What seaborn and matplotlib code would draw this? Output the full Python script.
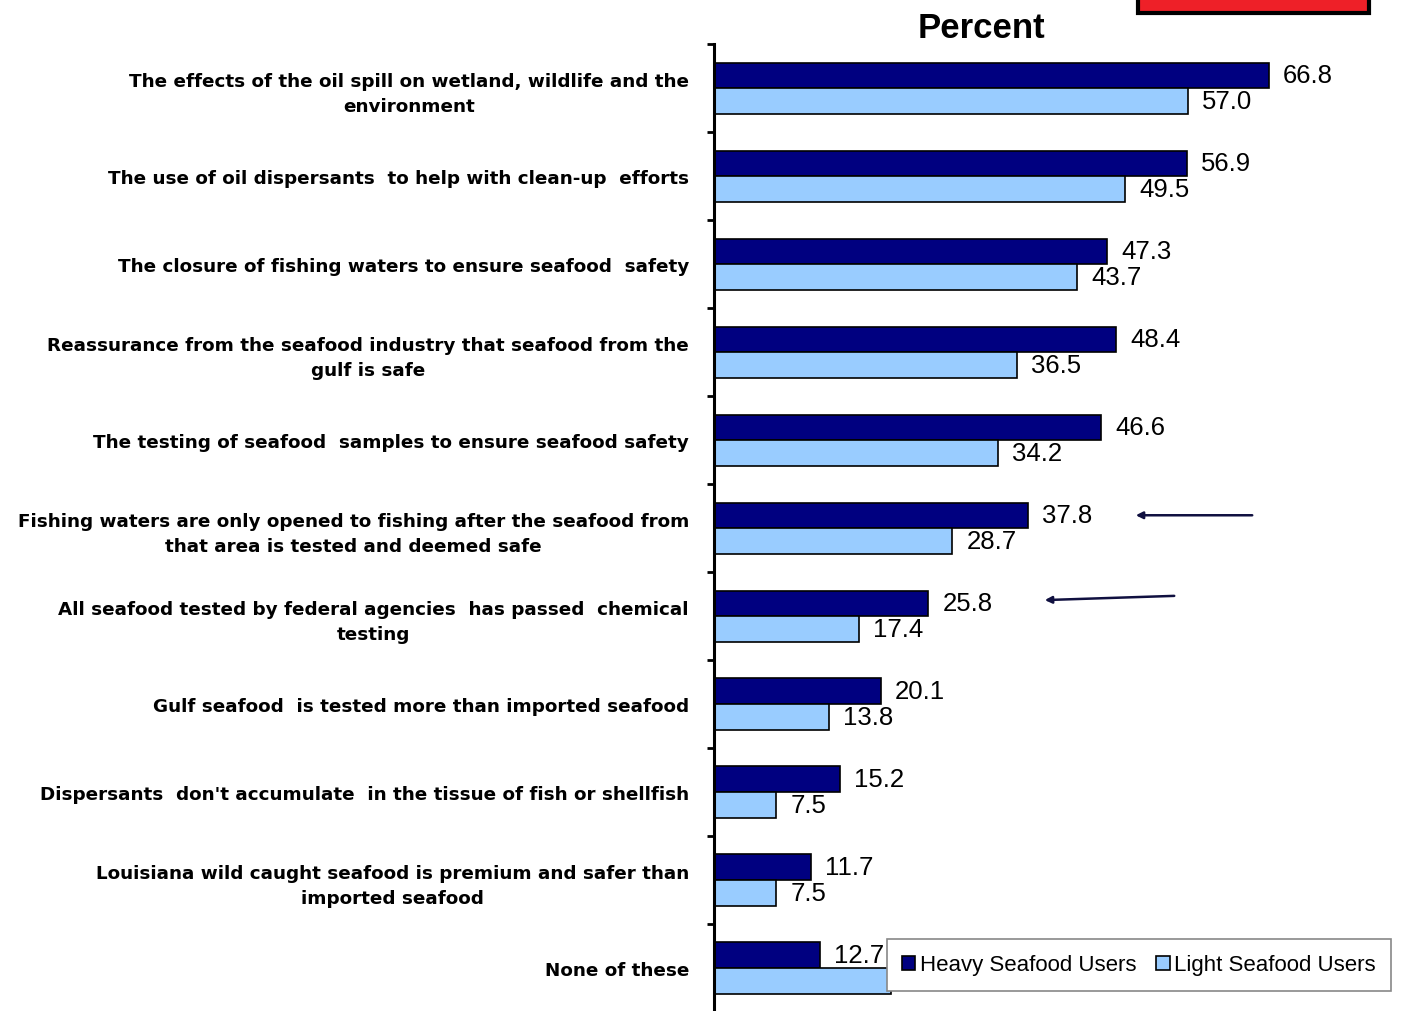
import matplotlib
matplotlib.use("Agg")
import matplotlib.pyplot as plt
from matplotlib.patches import Rectangle
import pandas as pd
import seaborn as sns

categories = [
    "The effects of the oil spill on wetland, wildlife and the\nenvironment",
    "The use of oil dispersants  to help with clean-up  efforts",
    "The closure of fishing waters to ensure seafood  safety",
    "Reassurance from the seafood industry that seafood from the\ngulf is safe",
    "The testing of seafood  samples to ensure seafood safety",
    "Fishing waters are only opened to fishing after the seafood from\nthat area is tested and deemed safe",
    "All seafood tested by federal agencies  has passed  chemical\ntesting",
    "Gulf seafood  is tested more than imported seafood",
    "Dispersants  don't accumulate  in the tissue of fish or shellfish",
    "Louisiana wild caught seafood is premium and safer than\nimported seafood",
    "None of these",
]
heavy = [66.8, 56.9, 47.3, 48.4, 46.6, 37.8, 25.8, 20.1, 15.2, 11.7, 12.7]
light = [57.0, 49.5, 43.7, 36.5, 34.2, 28.7, 17.4, 13.8, 7.5, 7.5, 21.3]
groups = ["Heavy Seafood Users", "Light Seafood Users"]
colors = ["#000080", "#99CCFF"]

df = pd.DataFrame({
    "item": categories * 2,
    "pct": heavy + light,
    "group": [groups[0]] * len(categories) + [groups[1]] * len(categories),
})

sns.set_theme(style="white")
plt.rcParams["font.family"] = ["Liberation Sans", "DejaVu Sans"]
plt.rcParams["text.color"] = "black"
plt.rcParams["axes.labelcolor"] = "black"
plt.rcParams["ytick.color"] = "black"

fig = plt.figure(figsize=(14.01, 10.12), dpi=100)
ax = fig.add_axes([714 / 1401, -0.001, 676 / 1401, 0.9565])

sns.barplot(data=df, x="pct", y="item", hue="group", hue_order=groups,
            palette=colors, saturation=1, orient="h", width=0.58,
            edgecolor="black", linewidth=1.2, ax=ax, order=categories)

ax.set_xlim(0, 676 / 8.31)
ax.set_ylim(len(categories) - 0.5, -0.5)
ax.set_xlabel("")
ax.set_ylabel("")
ax.set_xticks([])
for s in ["top", "right", "bottom"]:
    ax.spines[s].set_visible(False)
ax.spines["left"].set_color("black")
ax.spines["left"].set_linewidth(2.2)

ax.set_yticks(range(len(categories)))
ax.set_yticklabels(categories, fontsize=13.2, fontweight="bold",
                   family="DejaVu Sans", color="black",
                   multialignment="center", linespacing=1.5)
ax.tick_params(axis="y", which="major", length=0, pad=18)
ax.set_yticks([i - 0.5 for i in range(len(categories) + 1)], minor=True)
ax.tick_params(axis="y", which="minor", length=5, width=2, color="black",
               direction="out", left=True)

# value labels next to each bar (the last light bar sits under the legend)
off = 14 / 8.31
for i, (h, l) in enumerate(zip(heavy, light)):
    ax.text(h + off, i - 0.145, f"{h:.1f}", va="center", ha="left",
            fontsize=18.5, color="black")
    if i < len(categories) - 1:
        ax.text(l + off, i + 0.145, f"{l:.1f}", va="center", ha="left",
                fontsize=18.5, color="black")

# callout arrows
arrow_kw = dict(arrowstyle="-|>", color="#101040", lw=1.8, mutation_scale=10)
ax.annotate("", xy=((1133 - 714) / 8.31, 5 - 0.145),
            xytext=((1255 - 714) / 8.31, 5 - 0.145), arrowprops=arrow_kw)
ax.annotate("", xy=((1042 - 714) / 8.31, 6 - 0.18),
            xytext=((1177 - 714) / 8.31, 6 - 0.23), arrowprops=arrow_kw)

fig.text(981 / 1401, 1 - 28 / 1012, "Percent", ha="center", va="center",
         fontsize=25, fontweight="bold", color="black")

leg = ax.legend(loc="center", bbox_to_anchor=(1139 / 1401, 1 - 966 / 1012),
                bbox_transform=fig.transFigure, ncol=2, fontsize=16,
                frameon=True, fancybox=False, edgecolor="#888888",
                framealpha=1, handlelength=0.6, handleheight=0.6,
                handletextpad=0.2, columnspacing=0.9, borderpad=0.7)
leg.get_frame().set_linewidth(1.2)
leg.set_zorder(20)

fig.patches.append(Rectangle((1138 / 1401, 1 - 14 / 1012), 231 / 1401, 0.03,
                             transform=fig.transFigure, facecolor="#EE2028",
                             edgecolor="black", linewidth=3, zorder=10))

fig.savefig("out.png", dpi=100)
